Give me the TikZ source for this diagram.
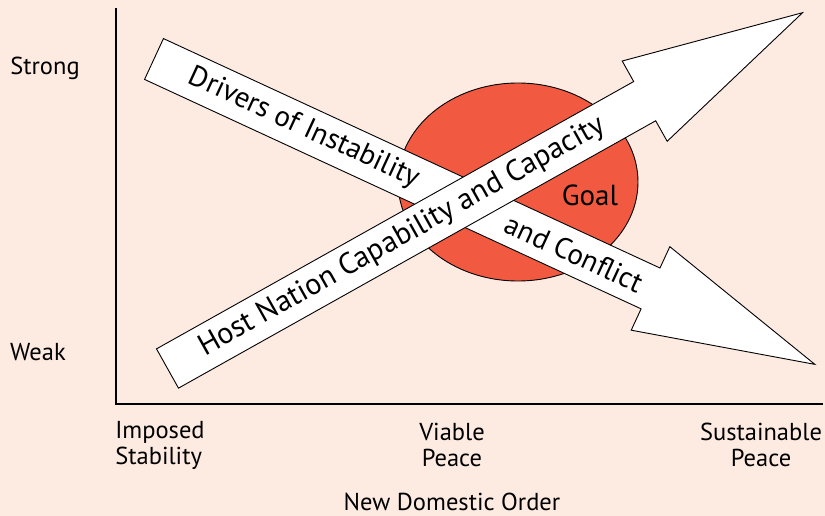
\documentclass[tikz,border=0pt]{standalone}
\usepackage{fontspec}
\setmainfont{PT Sans}
\definecolor{peach}{HTML}{FDEAE1}
\definecolor{goalred}{HTML}{F15A40}
\begin{document}
\begin{tikzpicture}[x=1pt,y=-1pt,every node/.style={font=\fontsize{24.5}{26}\selectfont},
  bigarrow/.style={draw=black,fill=white,line width=0.9pt,line join=miter}]
  \fill [peach] (0,0) rectangle (825,516);
  \useasboundingbox (0,0) rectangle (825,516);
  % axes
  \draw [line width=2.6pt] (116,8) -- (116,404) -- (823,404);
  \node (strong) at (45,68) {Strong};
  \node (weak) at (38,352) {Weak};
  \node [align=left] (imposed) at (160,445) {Imposed\\Stability};
  \node [align=center] (viable) at (452,445) {Viable\\Peace};
  \node [align=center] (sustain) at (761,445) {Sustainable\\Peace};
  \node (order) at (452,502) {New Domestic Order};
  % goal
  \draw [fill=goalred,line width=0.9pt] (518,182) ellipse (120 and 99);
  \node [font=\fontsize{29}{32}\selectfont] (goal) at (590,195) {Goal};
  % drivers of instability
  \begin{scope}[shift={(154,59)},rotate=-24.8]
    \draw [bigarrow] (0,-22.5) -- (547,-22.5) -- (547,-46) -- (728,0)
      -- (547,46) -- (547,22.5) -- (0,22.5) -- cycle;
    \node [transform shape,font=\fontsize{29}{32}\selectfont] (drivers) at (165,0) {Drivers of Instability};
    \node [transform shape,font=\fontsize{29}{32}\selectfont] (conflict) at (463,0) {and Conflict};
  \end{scope}
  % host nation capability
  \begin{scope}[shift={(167.5,368.5)},rotate=29.26]
    \draw [bigarrow] (0,-22.5) -- (547,-22.5) -- (547,-46) -- (728,0)
      -- (547,46) -- (547,22.5) -- (0,22.5) -- cycle;
    \node [transform shape,font=\fontsize{30}{33}\selectfont] (host) at (269,0) {Host Nation Capability and Capacity};
  \end{scope}
\end{tikzpicture}
\end{document}
